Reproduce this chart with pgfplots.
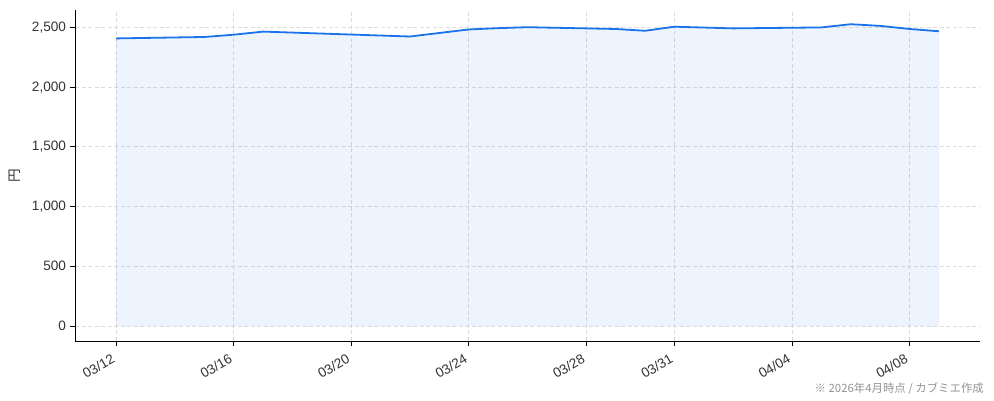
\documentclass[border=0pt]{standalone}
\usepackage{fontspec}
\setmainfont{Liberation Sans}
\newfontfamily\jp{Noto Sans CJK JP}
\usepackage{pgfplots}
\usepackage{pgfplotstable}
\pgfplotsset{compat=1.18}
\definecolor{lineblue}{HTML}{1A73E8}
\definecolor{gridgray}{HTML}{DDDDDD}
\definecolor{ticktext}{HTML}{333333}
\pgfplotstableread{
x y
0 2408
3 2420
4 2439
5 2465
10 2424
12 2483
13 2494
14 2502
16 2492
17 2487
18 2472
19 2506
21 2492
24 2500
25 2527
26 2513
27 2487
28 2468
}\pricedata
\begin{document}
\begin{tikzpicture}
\path[use as bounding box] (0,0) rectangle (994bp,401bp);
\begin{axis}[
  at={(75bp,60bp)}, anchor=south west,
  width=905bp, height=331bp, scale only axis,
  xmin=-1.4, xmax=29.4,
  ymin=-126, ymax=2646,
  axis x line*=bottom, axis y line*=left,
  axis line style={black, line width=0.8bp},
  tick align=outside, major tick length=4.5bp,
  tick style={black, line width=0.8bp},
  xtick={0,4,8,12,16,19,23,27},
  xticklabels={03/12,03/16,03/20,03/24,03/28,03/31,04/04,04/08},
  ytick={0,500,1000,1500,2000,2500},
  /pgf/number format/assume math mode=true,
  /pgf/number format/1000 sep={,},
  ticklabel style={font=\fontsize{13.6bp}{15bp}\selectfont, text=ticktext},
  x tick label style={rotate=30, anchor=north east, xshift=-5bp, yshift=-0.5bp},
  y tick label style={xshift=-1bp},
  grid=major,
  major grid style={gridgray, dash pattern=on 4bp off 2.5bp, line width=0.8bp},
  ylabel={\jp 円},
  ylabel style={at={(axis description cs:-0.0663,0.5)}, anchor=center, font=\fontsize{13.6bp}{15bp}\selectfont, text=ticktext},
]
\addplot[fill=lineblue, fill opacity=0.08, draw=lineblue, draw opacity=0.08] table {\pricedata} \closedcycle;
\addplot[draw=lineblue, line width=1.8bp, line join=round] table {\pricedata};
\end{axis}
\node[anchor=south east, inner sep=0pt, text=gray!85, font=\jp\fontsize{11.4bp}{13bp}\selectfont] at (984bp,6bp) {※ 2026年4月時点 / カブミエ作成};
\end{tikzpicture}
\end{document}
